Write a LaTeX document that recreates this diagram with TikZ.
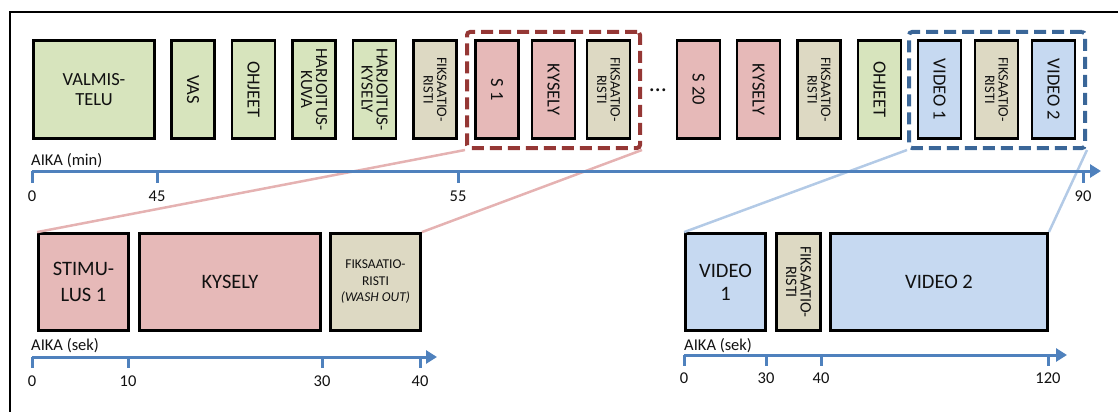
\documentclass[tikz,border=0pt]{standalone}
\usepackage{fontspec}
\setmainfont{Carlito}
\usetikzlibrary{arrows.meta}
\definecolor{grn}{HTML}{D7E4BD}
\definecolor{rd}{HTML}{E6B9B8}
\definecolor{tanc}{HTML}{DDD9C3}
\definecolor{blu}{HTML}{C6D9F1}
\definecolor{axisblue}{HTML}{4F81BD}
\definecolor{dred}{HTML}{953735}
\definecolor{dblue}{HTML}{3A6698}
\definecolor{lred}{HTML}{E5B2B2}
\definecolor{lblue}{HTML}{B3CAE6}
\definecolor{txt}{HTML}{111111}
\begin{document}
\begin{tikzpicture}[x=1pt,y=-1pt,
  box/.style={draw=black, line width=2.8pt, inner sep=0pt, align=center, text=txt},
  vbox/.style={box, rotate=-90, minimum width=98pt, minimum height=43pt},
  hbox/.style={box, minimum height=97pt},
  big/.style={font=\fontsize{18.5}{20}\selectfont},
  mid/.style={font=\fontsize{17}{15}\selectfont},
  small/.style={font=\fontsize{14.5}{13.5}\selectfont},
  bbig/.style={font=\fontsize{20.5}{26}\selectfont},
  bsmall/.style={font=\fontsize{13.5}{16.5}\selectfont},
  grp/.style={line width=4pt, dash pattern=on 12pt off 6pt, rounded corners=3pt, inner sep=0pt},
  axis/.style={draw=axisblue, line width=3pt},
  axarrow/.style={axis, -{Triangle[length=11pt,width=13pt]}},
  tick/.style={draw=axisblue, line width=3pt},
  tlab/.style={font=\fontsize{16.5}{16}\selectfont, text=txt, inner sep=0pt},
  alab/.style={font=\fontsize{16.5}{16}\selectfont, text=txt, inner sep=0pt, anchor=west},
  conn/.style={line width=2.5pt}
]
\useasboundingbox (0,0) rectangle (1118,412);
% outer frame
\coordinate (f0) at (10,12);
\coordinate (f1) at (1118,12);
\coordinate (f2) at (10,412);
\draw[line width=1.5pt, black] (f1) -- (f0) -- (f2);

% group frames (top)
\node[grp, draw=dred, minimum width=173pt, minimum height=116pt] (redgrp) at (553.5,90) {};
\node[grp, draw=dblue, minimum width=176pt, minimum height=116pt] (bluegrp) at (997,90) {};

% bottom-left boxes
\node[hbox, fill=rd, bbig, minimum width=90pt] (stim) at (83.5,282) {STIMU-\\LUS 1};
\node[hbox, fill=rd, bbig, minimum width=181pt] (kysb) at (230,282) {KYSELY};
\node[hbox, fill=tanc, bsmall, minimum width=90pt] (fiksb) at (375.5,282) {FIKSAATIO-\\RISTI\\\textit{(WASH OUT)}};

% bottom-right boxes
\node[hbox, fill=blu, minimum width=80pt, font=\fontsize{20.5}{23}\selectfont] (vid1b) at (725.5,282) {VIDEO\\1};
\node[box, fill=tanc, rotate=-90, minimum width=97pt, minimum height=44pt, font=\fontsize{16}{14.5}\selectfont] (fiksc) at (798.5,282) {FIKSAATIO-\\RISTI};
\node[hbox, fill=blu, bbig, minimum width=217pt] (vid2b) at (939,282) {VIDEO 2};

% connectors
\draw[conn, lred] (redgrp.south west) -- (stim.north west);
\draw[conn, lred] (redgrp.south east) -- (fiksb.north east);
\draw[conn, lblue] (bluegrp.south west) -- (vid1b.north west);
\draw[conn, lblue] (bluegrp.south east) -- (vid2b.north east);

% top boxes
\node[box, fill=grn, big, minimum width=121pt, minimum height=98pt] (valmis) at (94,89.5) {VALMIS-\\TELU};
\node[vbox, fill=grn, big] (vas) at (193,89.5) {VAS};
\node[vbox, fill=grn, big] (ohj1) at (253.5,89.5) {OHJEET};
\node[vbox, fill=grn, mid] (hkuva) at (314,89.5) {HARJOITUS-\\KUVA};
\node[vbox, fill=grn, mid] (hkys) at (374.5,89.5) {HARJOITUS-\\KYSELY};
\node[vbox, fill=tanc, small] (fiks1) at (435,89.5) {FIKSAATIO-\\RISTI};
\node[vbox, fill=rd, big] (s1) at (497,89.5) {S 1};
\node[vbox, fill=rd, big] (kys1) at (553.5,89.5) {KYSELY};
\node[vbox, fill=tanc, small] (fiks2) at (608.5,89.5) {FIKSAATIO-\\RISTI};
\node[font=\fontsize{24}{24}\selectfont, text=txt, inner sep=0pt] (dots) at (658,90) {…};
\node[vbox, fill=rd, big] (s20) at (698.5,89.5) {S 20};
\node[vbox, fill=rd, big] (kys2) at (758.5,89.5) {KYSELY};
\node[vbox, fill=tanc, small] (fiks3) at (819,89.5) {FIKSAATIO-\\RISTI};
\node[vbox, fill=grn, big] (ohj2) at (879.5,89.5) {OHJEET};
\node[vbox, fill=blu, big] (vid1) at (939.5,89.5) {VIDEO 1};
\node[vbox, fill=tanc, small] (fiks4) at (996.5,89.5) {FIKSAATIO-\\RISTI};
\node[vbox, fill=blu, big] (vid2) at (1053.5,89.5) {VIDEO 2};

% top axis
\coordinate (a0) at (32,171);
\coordinate (a1) at (1101,171);
\draw[axarrow] (a0) -- (a1);
\foreach \x/\n in {32/0,157/45,458/55,1083/90}{
  \coordinate (ta\n) at (\x,171);
  \coordinate (tb\n) at (\x,183);
  \draw[tick] (ta\n) -- (tb\n);
  \node[tlab] (tl\n) at (\x,196) {\n};
}
\node[alab] (aika1) at (31,161) {AIKA (min)};

% bottom-left axis
\coordinate (b0) at (32,357);
\coordinate (b1) at (437,357);
\draw[axarrow] (b0) -- (b1);
\foreach \x/\n in {32/0,128/10,322/30,420/40}{
  \coordinate (ba\n) at (\x,357);
  \coordinate (bb\n) at (\x,368);
  \draw[tick] (ba\n) -- (bb\n);
  \node[tlab] (bl\n) at (\x,381) {\n};
}
\node[alab] (aika2) at (31,346) {AIKA (sek)};

% bottom-right axis
\coordinate (c0) at (684,355);
\coordinate (c1) at (1067,355);
\draw[axarrow] (c0) -- (c1);
\foreach \x/\n in {684/0,766/30,821/40,1048/120}{
  \coordinate (ca\n) at (\x,355);
  \coordinate (cb\n) at (\x,366);
  \draw[tick] (ca\n) -- (cb\n);
  \node[tlab] (cl\n) at (\x,378) {\n};
}
\node[alab] (aika3) at (684,346) {AIKA (sek)};
\end{tikzpicture}
\end{document}
